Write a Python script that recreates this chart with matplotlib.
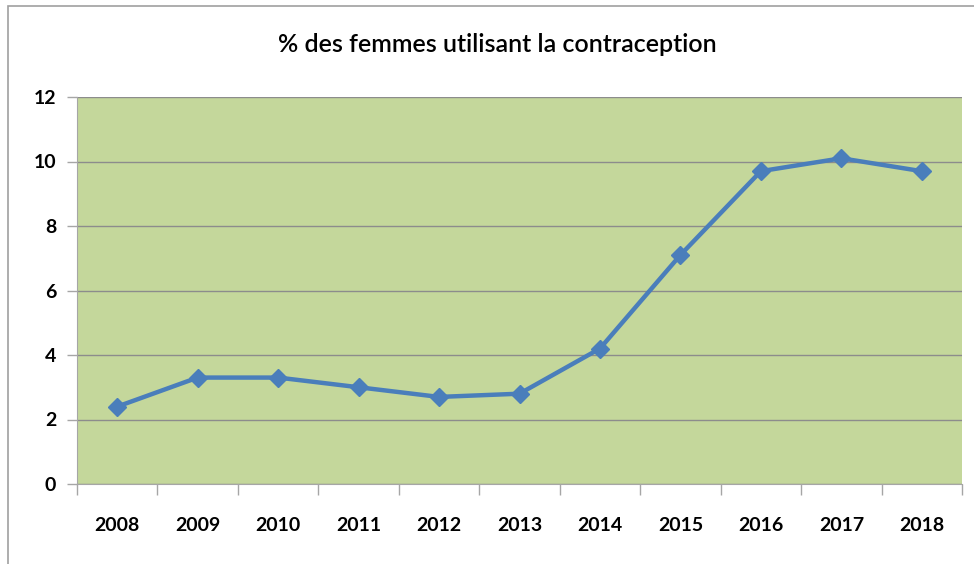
import matplotlib.pyplot as plt
from matplotlib.patches import Rectangle

years = ["2008", "2009", "2010", "2011", "2012", "2013", "2014", "2015", "2016", "2017", "2018"]
pct_women = [2.4, 3.3, 3.3, 3.0, 2.7, 2.8, 4.2, 7.1, 9.7, 10.1, 9.7]
y_ticks = [0, 2, 4, 6, 8, 10, 12]

plt.rcParams["font.family"] = ["Lato", "DejaVu Sans"]

fig = plt.figure(figsize=(9.74, 5.64), dpi=100)
ax = fig.add_axes([77 / 974, 80 / 564, 885 / 974, 387 / 564])

x = range(len(years))
ax.plot(x, pct_women, color="#4a7ebb", linewidth=3.2, marker="D", markersize=9,
        markeredgecolor="#4a7ebb", zorder=3)

ax.set_facecolor("#c4d79b")
ax.set_xlim(-0.5, len(years) - 0.5)
ax.set_ylim(0, 12)
ax.set_yticks(y_ticks)
ax.set_yticklabels([str(v) for v in y_ticks], fontsize=14, fontweight="bold")
ax.set_xticks([i - 0.5 for i in range(len(years) + 1)])
ax.set_xticklabels([])
ax.set_xticks(list(x), minor=True)
ax.set_xticklabels(years, minor=True, fontsize=14, fontweight="bold")
ax.tick_params(axis="x", which="major", length=8, color="#a6a6a6", width=1)
ax.tick_params(axis="x", which="minor", length=0, pad=24)
ax.tick_params(axis="y", length=7, color="#a6a6a6", width=1, pad=8)

ax.grid(axis="y", color="#8c8c8c", linewidth=1)
ax.set_axisbelow(True)
for side in ["top", "right"]:
    ax.spines[side].set_visible(False)
ax.spines["left"].set_color("#a6a6a6")
ax.spines["bottom"].set_color("#a6a6a6")

fig.text(497 / 974, 1 - 45 / 564, "% des femmes utilisant la contraception",
         ha="center", va="center", fontsize=18, fontweight="semibold")

fig.patches.append(Rectangle((8 / 974, -0.1), 1.2, 1.1 - 6 / 564,
                             transform=fig.transFigure, fill=False,
                             edgecolor="#a0a0a0", linewidth=1.2))

fig.savefig("out.png", dpi=100)
